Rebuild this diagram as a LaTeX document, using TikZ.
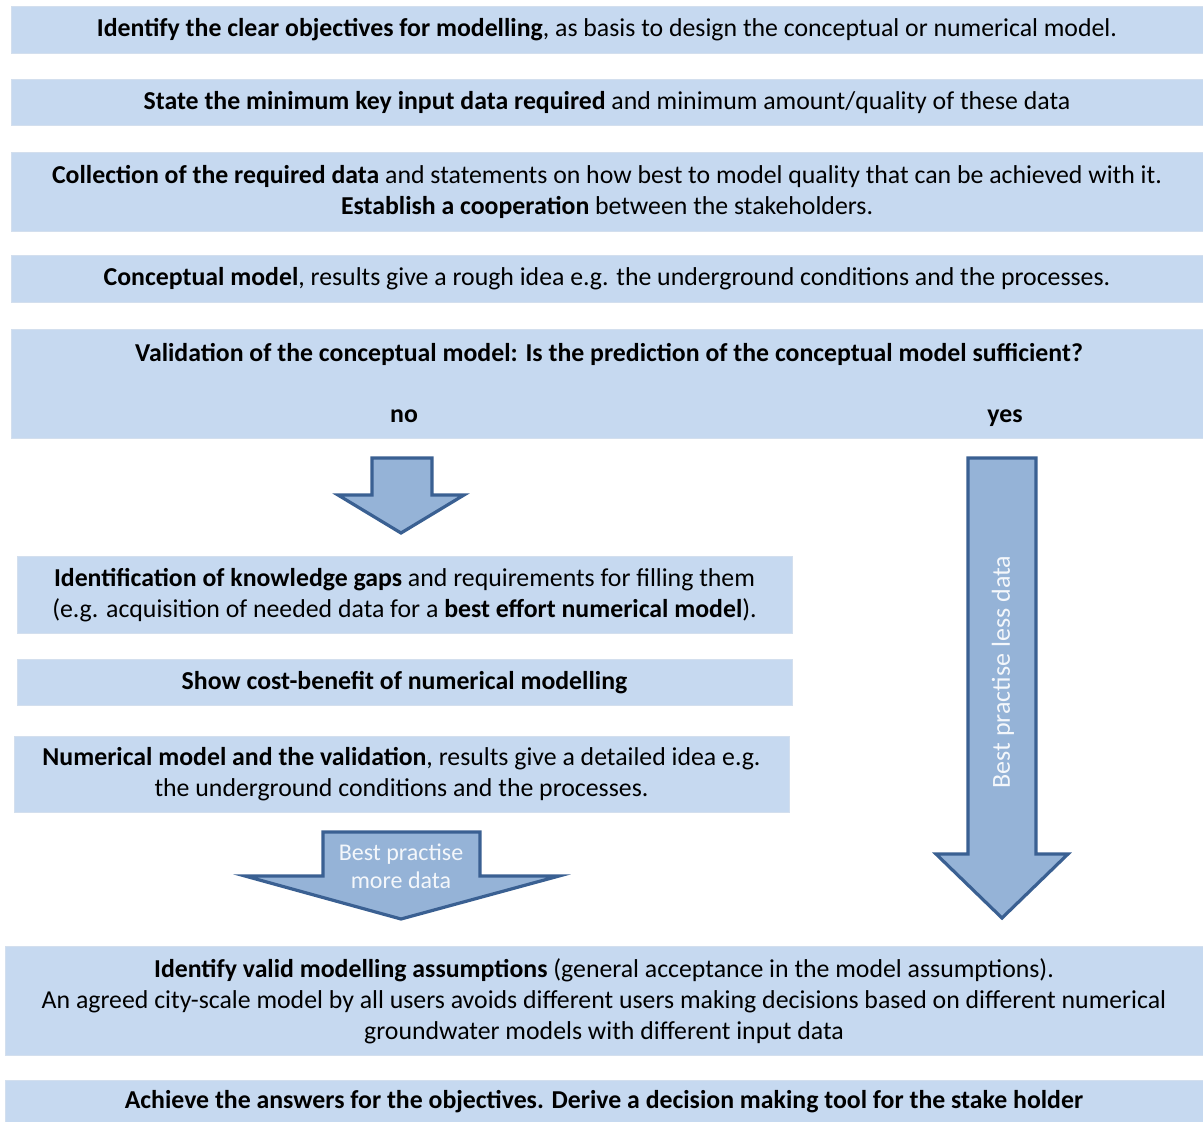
\documentclass[tikz,border=0pt]{standalone}
\usepackage{fontspec}
\setmainfont{Carlito}
\definecolor{boxfill}{HTML}{C6D9F0}
\definecolor{boxedge}{HTML}{D3DFEE}
\definecolor{arrfill}{HTML}{95B3D7}
\definecolor{arredge}{HTML}{3A6092}
\definecolor{arrtext}{HTML}{F4F7FB}
\begin{document}
\begin{tikzpicture}[x=1pt,y=-1pt,
  box/.style={fill=boxfill, draw=boxedge, line width=0.8pt, inner sep=0pt, align=center,
    font=\fontsize{25.8}{31}\selectfont},
  lbl/.style={inner sep=0pt, align=center, font=\fontsize{25.8}{31}\selectfont},
  blockarrow/.style={fill=arrfill, draw=arredge, line width=3.2pt, line join=miter},
  arrlbl/.style={inner sep=0pt, align=center, text=arrtext, font=\fontsize{24}{28}\selectfont}]
\useasboundingbox (0,0) rectangle (1203,1122);

% boxes
\node[box, minimum width=1192, minimum height=47] (b1) at (607,29.5)
  {\textbf{Identify the clear objectives for modelling}, as basis to design the conceptual or numerical model.};
\node[box, minimum width=1192, minimum height=46] (b2) at (607,102.5)
  {\textbf{State the minimum key input data required} and minimum amount/quality of these data};
\node[box, minimum width=1192, minimum height=79] (b3) at (607,192)
  {\textbf{Collection of the required data} and statements on how best to model quality that can be achieved with it.\\
   \textbf{Establish a cooperation} between the stakeholders.};
\node[box, minimum width=1192, minimum height=47] (b4) at (607,279)
  {\textbf{Conceptual model}, results give a rough idea e.g. the underground conditions and the processes.};
\node[box, minimum width=1192, minimum height=109] (b5) at (607,383.5) {};
\node[lbl, anchor=base] (q) at (609,361) {\textbf{Validation of the conceptual model: Is the prediction of the conceptual model sufficient?}};
\node[lbl, anchor=base] (no) at (404,422) {\textbf{no}};
\node[lbl, anchor=base] (yes) at (1005,422) {\textbf{yes}};

\node[box, minimum width=775, minimum height=77] (b6) at (404.5,595)
  {\textbf{Identification of knowledge gaps} and requirements for filling them\\
   (e.g. acquisition of needed data for a \textbf{best effort numerical model}).};
\node[box, minimum width=775, minimum height=46] (b7) at (404.5,682.5)
  {\textbf{Show cost-benefit of numerical modelling}};
\node[box, minimum width=775, minimum height=76] (b8) at (401.5,774.5)
  {\textbf{Numerical model and the validation}, results give a detailed idea e.g.\\
   the underground conditions and the processes.};
\node[box, minimum width=1198, minimum height=109] (b9) at (604,1001)
  {\textbf{Identify valid modelling assumptions} (general acceptance in the model assumptions).\\
   An agreed city-scale model by all users avoids different users making decisions based on different numerical\\
   groundwater models with different input data};
\node[box, minimum width=1198, minimum height=44] (b10) at (604,1102)
  {\textbf{Achieve the answers for the objectives. Derive a decision making tool for the stake holder}};

% block arrows
\draw[blockarrow] (372,458) -- (432,458) -- (432,495) -- (464,495) -- (401,533) -- (338,495) -- (372,495) -- cycle;
\draw[blockarrow] (323,832) -- (480,832) -- (480,876) -- (559,876) -- (401,919) -- (245,876) -- (323,876) -- cycle;
\draw[blockarrow] (968,458) -- (1036,458) -- (1036,854) -- (1068,854) -- (1002,918) -- (936,854) -- (968,854) -- cycle;

\node[arrlbl] (t1) at (401,866) {Best practise\\more data};
\node[arrlbl, rotate=90, font=\fontsize{26}{30}\selectfont] (t2) at (1003,672) {Best practise less data};
\end{tikzpicture}
\end{document}
